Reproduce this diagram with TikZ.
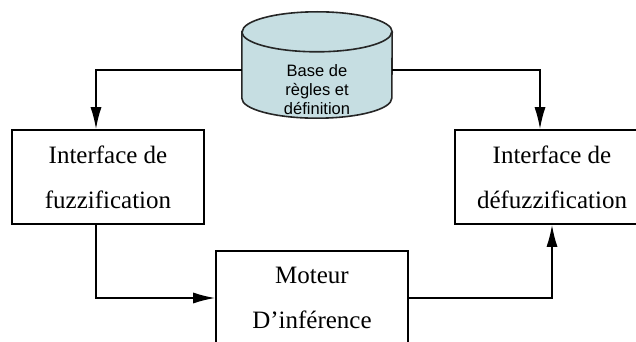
\documentclass[tikz,border=0pt]{standalone}
\usepackage{fontspec}
\setmainfont{Liberation Serif}
\newfontfamily\dbfont{Liberation Sans}
\usetikzlibrary{arrows.meta,positioning}
\definecolor{dbfill}{RGB}{198,222,226}

\tikzset{
  block/.style={draw, line width=1.6pt, minimum width=192pt, minimum height=94pt,
                align=center, font=\fontsize{25}{45}\selectfont, inner sep=0pt},
  base/.style={minimum width=150pt, minimum height=106pt, inner sep=0pt},
  flow/.style={line width=1.6pt, -{Latex[length=22pt,width=11pt]}}
}

\begin{document}
\begin{tikzpicture}[x=1pt,y=-1pt]
\useasboundingbox (0,0) rectangle (636,342);

% base de regles (cylinder)
\node[base] (db) at (317,65) {};
\filldraw[fill=dbfill, draw=black!85, line width=1.6pt]
  ([yshift=-20pt]db.north west) -- ([yshift=20pt]db.south west)
  arc[start angle=180, end angle=360, x radius=75pt, y radius=20pt]
  -- ([yshift=-20pt]db.north east)
  arc[start angle=0, end angle=180, x radius=75pt, y radius=20pt] -- cycle;
\draw[draw=black!85, line width=1.6pt] ([yshift=-20pt]db.north west)
  arc[start angle=180, end angle=360, x radius=75pt, y radius=20pt];
\node[align=center, font=\dbfont\fontsize{16.5}{19}\selectfont, inner sep=0pt] (dbtext) at (317,90) {Base de\\règles et\\définition};

\node[block] (fuzz) at (108,177) {Interface de\\fuzzification};
\node[block, minimum width=194pt] (defuzz) at (552,177) {Interface de\\défuzzification};
\node[block] (inf) at (312,298) {Moteur\\D’inférence};

\draw[flow] ([yshift=-5pt]db.west) -| ([xshift=-12pt]fuzz.north);
\draw[flow] ([yshift=-5pt]db.east) -| ([xshift=-12pt]defuzz.north);
\draw[flow] ([xshift=-12pt]fuzz.south) |- (inf.west);
\draw[flow] (inf.east) -| (defuzz.south);

\end{tikzpicture}
\end{document}
